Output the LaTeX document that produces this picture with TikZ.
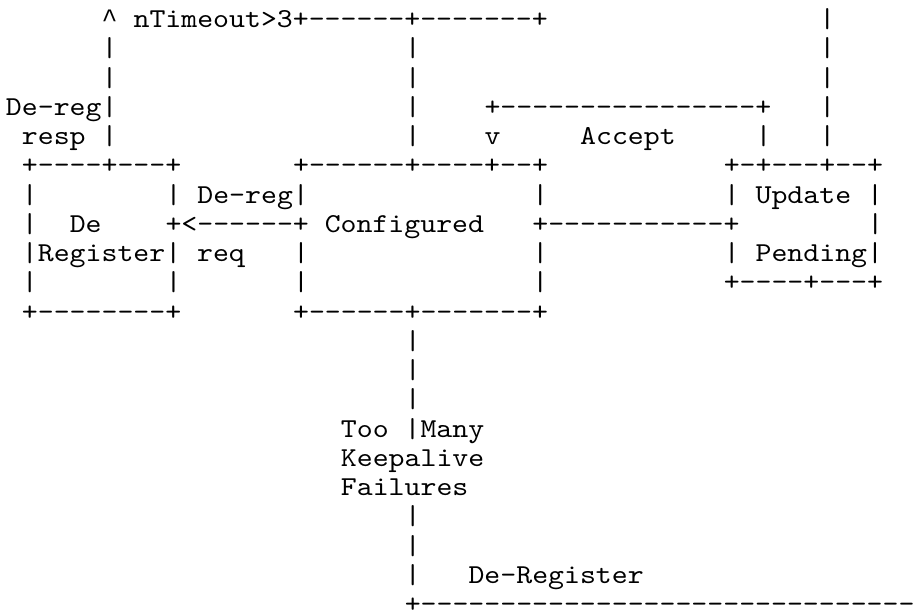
\documentclass[tikz,border=0pt]{standalone}
\usepackage{fontspec}
\setmonofont{lmmono10-regular.otf}[FakeStretch=1.11]
\newfontfamily\caretfont{Liberation Mono}
\tikzset{
  asc/.style={anchor=base west, inner sep=0pt, outer sep=0pt, text=black,
    font=\ttfamily\fontsize{20.5pt}{21pt}\selectfont},
  caret/.style={asc, font=\caretfont\fontsize{19.94pt}{20pt}\selectfont}
}
\newcommand\cell[4]{\node[asc] (#1) at ({6+#2*15.95},{27.5+(#3-1)*29.25}) {#4};}
\begin{document}
\begin{tikzpicture}[x=0.75pt,y=-0.75pt]
\fill[white] (0,0) rectangle (923,612);
\useasboundingbox (0,0) rectangle (923,612);
\clip (0,0) rectangle (923,612);
% line 1
\node[caret] (uparrow) at ({6+6*15.95},27.5) {\textasciicircum};
\cell{timeout}{8}{1}{nTimeout>3+------+-------+}
\cell{rbar1}{51}{1}{|}
% lines 2-3
\cell{lbar2}{6}{2}{|}
\cell{cbar2}{25}{2}{|}
\cell{rbar2}{51}{2}{|}
\cell{lbar3}{6}{3}{|}
\cell{cbar3}{25}{3}{|}
\cell{rbar3}{51}{3}{|}
% line 4
\cell{deregresp1}{0}{4}{De-reg|}
\cell{cbar4}{25}{4}{|}
\cell{acceptloop}{30}{4}{+----------------+}
\cell{rbar4}{51}{4}{|}
% line 5
\cell{deregresp2}{1}{5}{resp |}
\cell{cbar5}{25}{5}{|}
\cell{varrow}{30}{5}{v}
\cell{accept}{36}{5}{Accept}
\cell{abar5}{47}{5}{|}
\cell{rbar5}{51}{5}{|}
% line 6
\cell{dertop}{1}{6}{+----+---+}
\cell{conftop}{18}{6}{+------+----+--+}
\cell{updtop}{45}{6}{+-+---+--+}
% line 7
\cell{derl7}{1}{7}{|}
\cell{deregreq1}{10}{7}{| De-reg|}
\cell{confr7}{33}{7}{|}
\cell{update}{45}{7}{| Update |}
% line 8
\cell{derl8}{1}{8}{|}
\cell{derde}{4}{8}{De}
\cell{configured}{10}{8}{+<------+ Configured}
\cell{updlink}{33}{8}{+-----------+}
\cell{updr8}{54}{8}{|}
% line 9
\cell{register}{1}{9}{|Register| req}
\cell{confl9}{18}{9}{|}
\cell{confr9}{33}{9}{|}
\cell{pending}{45}{9}{| Pending|}
% line 10
\cell{derl10}{1}{10}{|}
\cell{derr10}{10}{10}{|}
\cell{confl10}{18}{10}{|}
\cell{confr10}{33}{10}{|}
\cell{updbot}{45}{10}{+----+---+}
% line 11
\cell{derbot}{1}{11}{+--------+}
\cell{confbot}{18}{11}{+------+-------+}
% lines 12-14
\cell{dbar12}{25}{12}{|}
\cell{dbar13}{25}{13}{|}
\cell{dbar14}{25}{14}{|}
% lines 15-17
\cell{toomany}{21}{15}{Too |Many}
\cell{keepalive}{21}{16}{Keepalive}
\cell{failures}{21}{17}{Failures}
% lines 18-21
\cell{dbar18}{25}{18}{|}
\cell{dbar19}{25}{19}{|}
\cell{dbar20}{25}{20}{|}
\cell{deregister}{29}{20}{De-Register}
\cell{bottomline}{25}{21}{+-------------------------------}
\end{tikzpicture}
\end{document}
